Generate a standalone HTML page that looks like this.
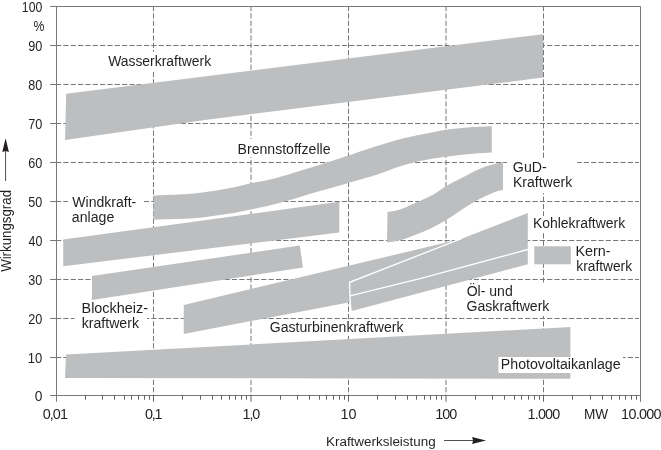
<!DOCTYPE html>
<html lang="de"><head><meta charset="utf-8"><title>Wirkungsgrad und Kraftwerksleistung</title>
<style>
html,body{margin:0;padding:0;background:#fff}
svg{display:block}
text{font-family:"Liberation Sans",sans-serif;font-size:14px;fill:#231f20}
.g{stroke:#77787b;stroke-width:1;fill:none;stroke-dasharray:5.23 2.1}
.a{stroke:#77787b;stroke-width:1;fill:none}
.tk{stroke:#606163;stroke-width:1;fill:none}
.m{stroke:#808285;stroke-width:1;fill:none}
.l{stroke:#b1b3b6;stroke-width:1;fill:none}
.t{font-size:14.4px}
.x{font-size:13.7px}
.y{font-size:14.1px}
.b{fill:#bcbec0}
.w{fill:#bcbec0;stroke:#fff;stroke-width:1.4;stroke-linejoin:miter}
.k{fill:#fff}
.wl{fill:none;stroke:#fff;stroke-width:1.3}
</style></head><body>
<svg width="661" height="450" viewBox="0 0 661 450">
<rect width="661" height="450" fill="#fff"/>
<path class="g" d="M56.0 357.5H639.0"/>
<path class="g" d="M56.0 318.5H639.0"/>
<path class="g" d="M56.0 279.5H639.0"/>
<path class="g" d="M56.0 240.5H639.0"/>
<path class="g" d="M56.0 201.5H639.0"/>
<path class="g" d="M56.0 162.5H639.0"/>
<path class="g" d="M56.0 123.5H639.0"/>
<path class="g" d="M56.0 84.5H639.0"/>
<path class="g" d="M56.0 45.5H639.0"/>
<path class="g" d="M153.5 6.0V395.5"/>
<path class="g" d="M251.0 6.0V395.5"/>
<path class="g" d="M348.5 6.0V395.5"/>
<path class="g" d="M446.0 6.0V395.5"/>
<path class="g" d="M543.5 6.0V395.5"/>
<polygon class="b" points="66.2,93.75 543,34.25 543,77.5 420,93 205,120 65,140"/>
<path class="b" d="M153.5 195.5C157.58 195.33 169.83 195.00 178.00 194.50C186.17 194.00 193.83 193.57 202.50 192.50C211.17 191.43 221.93 189.65 230.00 188.10C238.07 186.55 243.33 184.85 250.90 183.20C258.47 181.55 266.78 180.40 275.40 178.20C284.02 176.00 295.03 172.28 302.60 170.00C310.17 167.72 315.65 166.07 320.80 164.50C325.95 162.93 328.93 162.08 333.50 160.60C338.07 159.12 342.73 157.45 348.20 155.60C353.67 153.75 360.25 151.48 366.30 149.50C372.35 147.52 378.45 145.52 384.50 143.70C390.55 141.88 396.55 140.12 402.60 138.60C408.65 137.08 414.75 135.87 420.80 134.60C426.85 133.33 434.03 131.90 438.90 131.00C443.77 130.10 444.82 129.82 450.00 129.20C455.18 128.58 463.04 127.79 470.00 127.30C476.96 126.81 488.12 126.42 491.75 126.25L491.75 152.5C488.12 152.75 476.96 153.38 470.00 154.00C463.04 154.62 455.18 155.58 450.00 156.20C444.82 156.82 443.77 156.93 438.90 157.70C434.03 158.47 426.85 159.48 420.80 160.80C414.75 162.12 408.65 163.75 402.60 165.60C396.55 167.45 390.55 169.87 384.50 171.90C378.45 173.93 372.88 175.78 366.30 177.80C359.72 179.82 352.58 181.83 345.00 184.00C337.42 186.17 327.87 188.77 320.80 190.80C313.73 192.83 308.65 194.42 302.60 196.20C296.55 197.98 290.55 199.83 284.50 201.50C278.45 203.17 271.90 204.88 266.30 206.20C260.70 207.52 256.95 208.17 250.90 209.40C244.85 210.63 238.07 212.25 230.00 213.60C221.93 214.95 211.17 216.60 202.50 217.50C193.83 218.40 186.17 218.67 178.00 219.00C169.83 219.33 157.58 219.42 153.50 219.50Z"/>
<polygon class="b" points="63.25,239.5 339.25,201.75 339.25,232.5 63.25,266.25"/>
<polygon class="b" points="92,276 299.8,245.5 303,267.5 92,300"/>
<path class="b" d="M387.5 212C389.58 211.58 395.00 211.17 400.00 209.50C405.00 207.83 412.08 204.42 417.50 202.00C422.92 199.58 427.75 197.62 432.50 195.00C437.25 192.38 441.00 189.17 446.00 186.25C451.00 183.33 456.83 180.42 462.50 177.50C468.17 174.58 475.00 170.92 480.00 168.75C485.00 166.58 488.67 165.62 492.50 164.50C496.33 163.38 501.25 162.42 503.00 162.00L503 190C501.67 190.33 498.83 190.54 495.00 192.00C491.17 193.46 484.17 196.67 480.00 198.75C475.83 200.83 473.75 202.21 470.00 204.50C466.25 206.79 461.67 209.79 457.50 212.50C453.33 215.21 449.17 218.25 445.00 220.75C440.83 223.25 436.67 225.46 432.50 227.50C428.33 229.54 424.58 231.12 420.00 233.00C415.42 234.88 409.17 237.38 405.00 238.75C400.83 240.12 398.00 240.62 395.00 241.25C392.00 241.88 388.33 242.29 387.00 242.50Z"/>
<polygon class="b" points="183.75,305 460,239.25 460,268 351,302 300,311.7 183.75,333.9"/>
<polygon class="b" points="349.6,282.3 527.8,213 527.8,249.5 420,278.6 350,295.9"/>
<polygon class="b" points="350,295.9 420,278.6 527.8,249.5 527.8,264.2 351.8,311"/>
<path class="wl" d="M462 238.4L349.6 282.3L350 295.9L350.4 302.5M350 295.9L420 278.6L527.8 249.5"/>
<rect class="b" x="534.3" y="246.3" width="36.5" height="18"/>
<polygon class="b" points="66,354.5 570.4,327 570.4,378.75 65,378"/>
<rect class="k" x="268" y="320.5" width="138" height="14"/>
<rect class="k" x="105" y="52" width="110" height="18"/>
<rect class="k" x="236" y="139" width="97" height="18"/>
<rect class="k" x="68" y="194" width="75.5" height="30"/>
<rect class="k" x="74.5" y="301" width="72.5" height="29"/>
<rect class="k" x="507" y="159" width="70" height="34"/>
<rect class="k" x="531" y="216" width="98" height="16"/>
<rect class="k" x="574" y="244" width="62" height="30"/>
<rect class="k" x="465" y="283" width="87" height="33"/>
<rect class="k" x="498.5" y="357" width="124.5" height="16"/>
<path class="a" d="M50.0 6.5H640.5V401.9"/>
<path class="a" d="M56.5 6.5V401.7"/>
<path class="a" d="M50.0 395.5H640.5"/>
<path class="a" d="M50.0 357.5H56.5"/>
<path class="a" d="M50.0 318.5H56.5"/>
<path class="a" d="M50.0 279.5H56.5"/>
<path class="a" d="M50.0 240.5H56.5"/>
<path class="a" d="M50.0 201.5H56.5"/>
<path class="a" d="M50.0 162.5H56.5"/>
<path class="a" d="M50.0 123.5H56.5"/>
<path class="a" d="M50.0 84.5H56.5"/>
<path class="a" d="M50.0 45.5H56.5"/>
<path class="tk" d="M85.5 395.5V399.7"/>
<path class="tk" d="M102.5 395.5V399.7"/>
<path class="tk" d="M114.5 395.5V399.7"/>
<path class="tk" d="M124.5 395.5V399.7"/>
<path class="tk" d="M131.5 395.5V399.7"/>
<path class="tk" d="M138.5 395.5V399.7"/>
<path class="tk" d="M144.5 395.5V399.7"/>
<path class="tk" d="M149.5 395.5V399.7"/>
<path class="tk" d="M153.5 395.5V401.7"/>
<path class="tk" d="M182.5 395.5V399.7"/>
<path class="tk" d="M200.5 395.5V399.7"/>
<path class="tk" d="M212.5 395.5V399.7"/>
<path class="tk" d="M221.5 395.5V399.7"/>
<path class="tk" d="M229.5 395.5V399.7"/>
<path class="tk" d="M235.5 395.5V399.7"/>
<path class="tk" d="M241.5 395.5V399.7"/>
<path class="tk" d="M246.5 395.5V399.7"/>
<path class="tk" d="M251.0 395.5V401.7"/>
<path class="tk" d="M280.5 395.5V399.7"/>
<path class="tk" d="M297.5 395.5V399.7"/>
<path class="tk" d="M309.5 395.5V399.7"/>
<path class="tk" d="M319.5 395.5V399.7"/>
<path class="tk" d="M326.5 395.5V399.7"/>
<path class="tk" d="M333.5 395.5V399.7"/>
<path class="tk" d="M339.5 395.5V399.7"/>
<path class="tk" d="M344.5 395.5V399.7"/>
<path class="tk" d="M348.5 395.5V401.7"/>
<path class="tk" d="M377.5 395.5V399.7"/>
<path class="tk" d="M395.5 395.5V399.7"/>
<path class="tk" d="M407.5 395.5V399.7"/>
<path class="tk" d="M416.5 395.5V399.7"/>
<path class="tk" d="M424.5 395.5V399.7"/>
<path class="tk" d="M430.5 395.5V399.7"/>
<path class="tk" d="M436.5 395.5V399.7"/>
<path class="tk" d="M441.5 395.5V399.7"/>
<path class="tk" d="M446.0 395.5V401.7"/>
<path class="tk" d="M475.5 395.5V399.7"/>
<path class="tk" d="M492.5 395.5V399.7"/>
<path class="tk" d="M504.5 395.5V399.7"/>
<path class="tk" d="M514.5 395.5V399.7"/>
<path class="tk" d="M521.5 395.5V399.7"/>
<path class="tk" d="M528.5 395.5V399.7"/>
<path class="tk" d="M534.5 395.5V399.7"/>
<path class="tk" d="M539.5 395.5V399.7"/>
<path class="tk" d="M543.5 395.5V401.7"/>
<path class="tk" d="M572.5 395.5V399.7"/>
<path class="tk" d="M590.5 395.5V399.7"/>
<path class="tk" d="M602.5 395.5V399.7"/>
<path class="tk" d="M611.5 395.5V399.7"/>
<path class="tk" d="M619.5 395.5V399.7"/>
<path class="tk" d="M625.5 395.5V399.7"/>
<path class="tk" d="M631.5 395.5V399.7"/>
<path class="tk" d="M636.5 395.5V399.7"/>
<text x="34.66" y="400.6" text-anchor="start" textLength="7.7" lengthAdjust="spacingAndGlyphs" class="t">0</text>
<text x="27.81" y="362.7" text-anchor="start" textLength="14.5" lengthAdjust="spacingAndGlyphs" class="t">10</text>
<text x="28.16" y="323.7" text-anchor="start" textLength="14.1" lengthAdjust="spacingAndGlyphs" class="t">20</text>
<text x="28.32" y="284.7" text-anchor="start" textLength="14.0" lengthAdjust="spacingAndGlyphs" class="t">30</text>
<text x="28.52" y="245.7" text-anchor="start" textLength="13.8" lengthAdjust="spacingAndGlyphs" class="t">40</text>
<text x="28.3" y="206.7" text-anchor="start" textLength="14.0" lengthAdjust="spacingAndGlyphs" class="t">50</text>
<text x="28.15" y="167.7" text-anchor="start" textLength="14.1" lengthAdjust="spacingAndGlyphs" class="t">60</text>
<text x="28.15" y="128.7" text-anchor="start" textLength="14.1" lengthAdjust="spacingAndGlyphs" class="t">70</text>
<text x="28.25" y="89.7" text-anchor="start" textLength="14.0" lengthAdjust="spacingAndGlyphs" class="t">80</text>
<text x="28.21" y="50.7" text-anchor="start" textLength="14.1" lengthAdjust="spacingAndGlyphs" class="t">90</text>
<text x="21.87" y="11.7" text-anchor="start" textLength="20.4" lengthAdjust="spacingAndGlyphs" class="t">100</text>
<text x="33.46" y="31.3" text-anchor="start" textLength="10.9" lengthAdjust="spacingAndGlyphs" class="t">%</text>
<text class="t" x="42.64" y="418.8" textLength="25.37" lengthAdjust="spacing">0,01</text>
<text class="t" x="145.04" y="418.8" textLength="17.37" lengthAdjust="spacing">0,1</text>
<text class="t" x="242.50" y="418.8" textLength="17.76" lengthAdjust="spacing">1,0</text>
<text class="t" x="340.60" y="418.8" textLength="15.86" lengthAdjust="spacing">10</text>
<text class="t" x="435.30" y="418.8" textLength="21.86" lengthAdjust="spacing">100</text>
<text class="t" x="527.60" y="418.8" textLength="32.66" lengthAdjust="spacing">1.000</text>
<text x="583.88" y="418.8" text-anchor="start" textLength="24.2" lengthAdjust="spacingAndGlyphs" class="t">MW</text>
<text class="t" x="621.10" y="418.8" textLength="40.46" lengthAdjust="spacing">10.000</text>
<text x="108.14" y="66.2" text-anchor="start" textLength="103.0" lengthAdjust="spacingAndGlyphs">Wasserkraftwerk</text>
<text x="237.54" y="153.5" text-anchor="start" textLength="93.0" lengthAdjust="spacingAndGlyphs">Brennstoffzelle</text>
<text x="72.34" y="206.7" text-anchor="start" textLength="63.9" lengthAdjust="spacingAndGlyphs">Windkraft-</text>
<text x="71.8" y="221.9" text-anchor="start" textLength="42.5" lengthAdjust="spacingAndGlyphs">anlage</text>
<text x="81.52" y="312.8" text-anchor="start" textLength="66.5" lengthAdjust="spacingAndGlyphs">Blockheiz-</text>
<text x="81.75" y="327.9" text-anchor="start" textLength="57.2" lengthAdjust="spacingAndGlyphs">kraftwerk</text>
<text x="269.79" y="331.7" text-anchor="start" textLength="133.7" lengthAdjust="spacingAndGlyphs">Gasturbinenkraftwerk</text>
<text x="512.89" y="171.6" text-anchor="start" textLength="33.8" lengthAdjust="spacingAndGlyphs">GuD-</text>
<text x="512.95" y="187.0" text-anchor="start" textLength="59.3" lengthAdjust="spacingAndGlyphs">Kraftwerk</text>
<text x="532.96" y="228.2" text-anchor="start" textLength="92.2" lengthAdjust="spacingAndGlyphs">Kohlekraftwerk</text>
<text x="575.52" y="255.8" text-anchor="start" textLength="35.1" lengthAdjust="spacingAndGlyphs">Kern-</text>
<text x="576.37" y="270.7" text-anchor="start" textLength="55.7" lengthAdjust="spacingAndGlyphs">kraftwerk</text>
<text x="466.63" y="295.7" text-anchor="start" textLength="46.1" lengthAdjust="spacingAndGlyphs">Öl- und</text>
<text x="466.59" y="310.8" text-anchor="start" textLength="82.8" lengthAdjust="spacingAndGlyphs">Gaskraftwerk</text>
<text x="500.84" y="369.2" text-anchor="start" textLength="119.8" lengthAdjust="spacingAndGlyphs">Photovoltaikanlage</text>
<text x="326.0" y="445.8" text-anchor="start" textLength="109.7" lengthAdjust="spacingAndGlyphs" class="x">Kraftwerksleistung</text>
<text class="y" transform="translate(11.0 271.86) rotate(-90)" textLength="81.9" lengthAdjust="spacingAndGlyphs">Wirkungsgrad</text>
<path d="M444 440.5H474" stroke="#3c3b3d" stroke-width="0.9" fill="none"/>
<path fill="#231f20" d="M486 440.5L472 437.1L473.2 440.5L472 443.9Z"/>
<path d="M5.6 181V150" stroke="#3c3b3d" stroke-width="0.9" fill="none"/>
<path fill="#231f20" d="M5.6 138.3L2.3 152L5.6 150.9L8.9 152Z"/>
</svg></body></html>
